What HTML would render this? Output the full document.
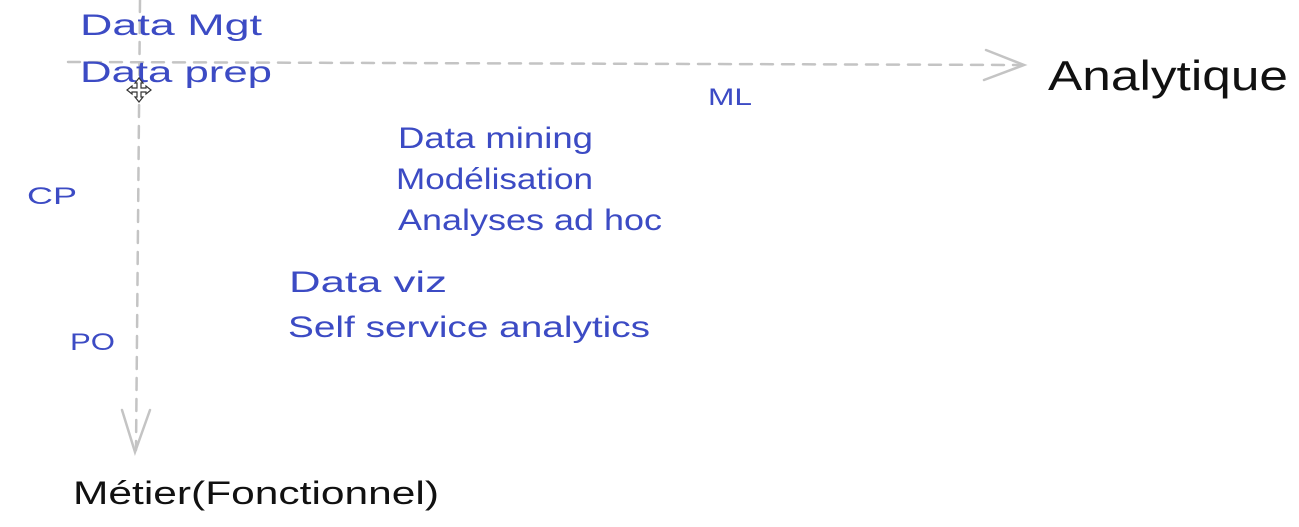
<!DOCTYPE html>
<html><head><meta charset="utf-8"><style>
html,body{margin:0;padding:0;background:#fff;width:1299px;height:527px;overflow:hidden}
svg{display:block}
text{font-family:"Liberation Sans",sans-serif}
.b{fill:#3c4bc4}
.k{fill:#111}
</style></head><body>
<svg width="1299" height="527" viewBox="0 0 1299 527" xmlns="http://www.w3.org/2000/svg">
<g stroke="#c4c4c4" stroke-width="2.5" fill="none" stroke-linecap="round">
<line x1="68" y1="62" x2="1022" y2="65" stroke-dasharray="12,9"/>
<path d="M986 50 L1024 65 L984 80"/>
<line x1="140" y1="0" x2="136" y2="450" stroke-dasharray="12,9"/>
<path d="M122 410 L135 452 L150 410"/>
</g>
<g font-size="30">
<text class="b" x="80" y="35" textLength="182" lengthAdjust="spacingAndGlyphs">Data Mgt</text>
<text class="b" x="80" y="82" textLength="192" lengthAdjust="spacingAndGlyphs">Data prep</text>
<text class="b" x="398" y="148" textLength="195" lengthAdjust="spacingAndGlyphs">Data mining</text>
<text class="b" x="396" y="189" textLength="197" lengthAdjust="spacingAndGlyphs">Modélisation</text>
<text class="b" x="398" y="230" textLength="264" lengthAdjust="spacingAndGlyphs">Analyses ad hoc</text>
<text class="b" x="289" y="292" textLength="158" lengthAdjust="spacingAndGlyphs">Data viz</text>
<text class="b" x="288" y="337" textLength="362" lengthAdjust="spacingAndGlyphs">Self service analytics</text>
</g>
<g font-size="24">
<text class="b" x="708" y="105" textLength="44" lengthAdjust="spacingAndGlyphs">ML</text>
<text class="b" x="27" y="204" textLength="50" lengthAdjust="spacingAndGlyphs">CP</text>
<text class="b" x="70" y="350" textLength="45" lengthAdjust="spacingAndGlyphs">PO</text>
</g>
<text class="k" x="1048" y="90" font-size="42" textLength="240" lengthAdjust="spacingAndGlyphs">Analytique</text>
<text class="k" x="73" y="504" font-size="32" textLength="366" lengthAdjust="spacingAndGlyphs">Métier(Fonctionnel)</text>
<g stroke="#333" stroke-width="1.2" fill="#fff">
<path d="M139 78 L143 83 L141 83 L141 88 L146 88 L146 86 L151 90 L146 94 L146 92 L141 92 L141 97 L143 97 L139 102 L135 97 L137 97 L137 92 L132 92 L132 94 L127 90 L132 86 L132 88 L137 88 L137 83 L135 83 Z"/>
</g>
</svg>
</body></html>
